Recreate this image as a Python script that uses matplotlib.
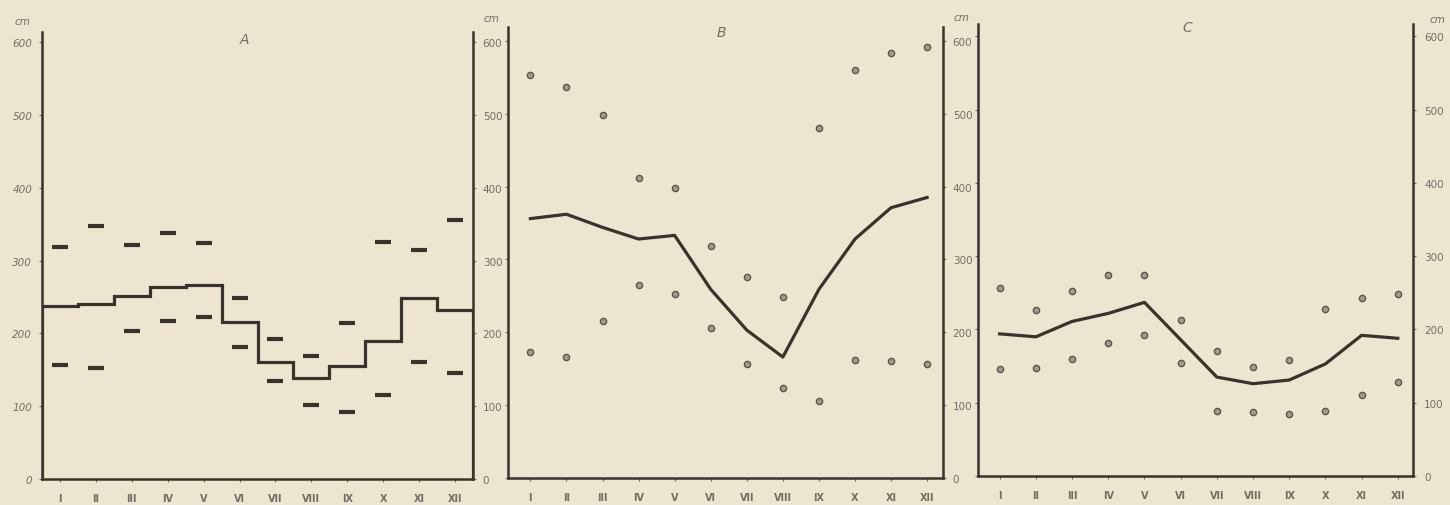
import numpy as np
import matplotlib
matplotlib.use("Agg")
import matplotlib.pyplot as plt

months = ["I", "II", "III", "IV", "V", "VI", "VII", "VIII", "IX", "X", "XI", "XII"]
yticks = [0, 100, 200, 300, 400, 500, 600]

# panel A: monthly mean (step line) with upper and lower bars
a_mean = [238, 240, 251, 264, 267, 215, 161, 139, 155, 189, 249, 232]
a_high = [318, 348, 322, 338, 324, 249, 192, 169, 214, 325, 314, 356]
a_low = [157, 152, 203, 217, 222, 182, 135, 102, 92, 116, 161, 145]

# panel B
b_mean = [356, 362, 344, 328, 333, 259, 203, 166, 259, 328, 371, 385]
b_high = [553, 537, 498, 412, 398, 319, 276, 249, 480, 560, 583, 591]
b_low = [173, 166, 216, 265, 253, 206, 156, 124, 106, 162, 160, 156]

# panel C
c_mean = [194, 190, 211, 222, 237, 186, 135, 126, 131, 153, 192, 188]
c_high = [257, 227, 252, 274, 275, 213, 170, 149, 158, 228, 243, 249]
c_low = [146, 148, 160, 181, 193, 154, 89, 87, 85, 89, 110, 128]

bg = "#eee5d1"
ink = "#3a322c"
grey = "#756d63"

W, H = 1450, 506
fig = plt.figure(figsize=(14.5, 5.06), dpi=100, facecolor=bg)


def make_axes(left, right, top, bottom, xlim, ytop, ypad):
    ax = fig.add_axes([left / W, (H - bottom) / H, (right - left) / W, (bottom - top) / H])
    ax.set_facecolor(bg)
    ax.set_xlim(*xlim)
    ax.set_ylim(0, ytop)
    ax.spines["top"].set_visible(False)
    for s in ["left", "right", "bottom"]:
        ax.spines[s].set_color(ink)
        ax.spines[s].set_linewidth(1.8)
    ax.set_xticks(range(1, 13))
    ax.set_xticklabels(months, fontsize=7, fontweight="bold", color=grey)
    ax.set_yticks(yticks)
    ax.tick_params(axis="x", length=2, width=0.8, color=grey, pad=8)
    ax.tick_params(axis="y", which="both", length=2, width=0.8, color=grey,
                   left=True, right=True, direction="out", labelsize=7.5,
                   labelcolor=grey, pad=ypad)
    for lab in ax.get_yticklabels():
        lab.set_fontstyle("italic")
    return ax


x = np.arange(1, 13)

# ---- A ----
axA = make_axes(42, 473, 33, 480, (0.5, 12.5), 614, 5)
axA.tick_params(axis="y", labelleft=True, labelright=True)
axA.stairs(a_mean, np.arange(0.5, 13.0, 1.0), color=ink, linewidth=2.3)
axA.plot(x, a_high, ls="none", marker="_", ms=11, mew=3, color=ink)
axA.plot(x, a_low, ls="none", marker="_", ms=11, mew=3, color=ink)
axA.text(0.47, 0.984, "A", transform=axA.transAxes, fontsize=10,
         fontstyle="italic", color=grey, ha="center", va="center")

# ---- B ----
axB = make_axes(508, 943, 28, 479, (0.38, 12.44), 619, 5)
axB.tick_params(axis="y", labelleft=False, labelright=True)
axB.plot(x, b_mean, color=ink, linewidth=2.3)
for vals in (b_high, b_low):
    axB.plot(x, vals, ls="none", marker="o", ms=4.5, mfc="#a29b90", mec="#5e564d", mew=1)
axB.text(0.49, 0.989, "B", transform=axB.transAxes, fontsize=10,
         fontstyle="italic", color=grey, ha="center", va="center")

# ---- C ----
axC = make_axes(978, 1413, 25, 477, (0.4, 12.42), 617, 6)
axC.tick_params(axis="y", labelleft=False, labelright=True)
axC.plot(x, c_mean, color=ink, linewidth=2.3)
for vals in (c_high, c_low):
    axC.plot(x, vals, ls="none", marker="o", ms=4.5, mfc="#a29b90", mec="#5e564d", mew=1)
axC.text(0.48, 0.993, "C", transform=axC.transAxes, fontsize=10,
         fontstyle="italic", color=grey, ha="center", va="center")

# unit labels above the tick label columns
for px, py in [(22, 22), (491, 19), (961, 18), (1437, 20)]:
    fig.text(px / W, 1 - py / H, "cm", fontsize=7.5, fontstyle="italic",
             color=grey, ha="center", va="center")

fig.savefig("out.png", dpi=100, facecolor=bg)
